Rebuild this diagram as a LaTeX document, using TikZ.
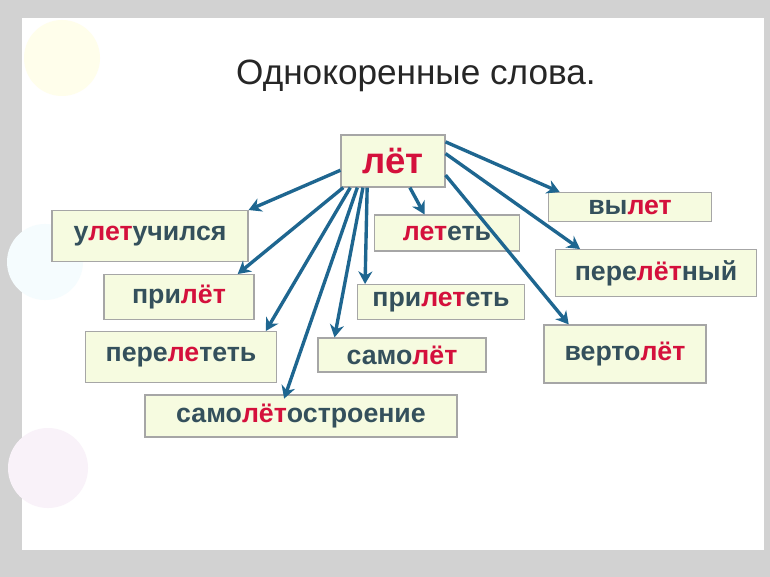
\documentclass[tikz,border=0pt]{standalone}
\usepackage{fontspec}
\setmainfont{Liberation Sans}
\usetikzlibrary{arrows.meta}
\definecolor{wordgray}{HTML}{34505C}
\definecolor{rootred}{HTML}{D4103C}
\definecolor{arrowblue}{HTML}{1E6690}
\definecolor{boxgreen}{HTML}{F6FBE0}
\newcommand{\rt}[1]{\textcolor{rootred}{#1}}
\tikzset{
  word/.style={draw=gray!70,fill=boxgreen,line width=0.8pt,minimum height=#1cm,
    font=\fontsize{19}{21}\selectfont\bfseries,text=wordgray,inner sep=0pt},
  word/.default=1.1,
  link/.style={arrowblue,line width=2.4pt,-{Stealth[length=9pt,width=10pt]}}
}
\begin{document}
\begin{tikzpicture}[x=0.025cm,y=-0.025cm]
  \useasboundingbox (0,0) rectangle (770,577);
  % background
  \fill[gray!35] (0,0) rectangle (770,577);
  \fill[white] (22,18) rectangle (764,550);
  \fill[yellow!8] (62,58) circle (38);
  \fill[cyan!4] (45,262) circle (38);
  \fill[violet!5] (48,468) circle (40);
  \node[font=\fontsize{25}{28}\selectfont,text=black!85] (title) at (416,76) {Однокоренные слова.};

  % root
  \node[word=1.3,minimum width=104*0.025cm,font=\fontsize{26}{28}\selectfont\bfseries] (let) at (393,161) {\rt{лёт}};

  % left side
  \node[word=1.27,minimum width=196*0.025cm] (uletuch) at (150,236) {у\rt{лет}учился};
  \node[word=1.12,minimum width=150*0.025cm] (prilyot) at (179,297) {при\rt{лёт}};
  \node[word=1.27,minimum width=191*0.025cm] (pereletet) at (181,357) {пере\rt{ле}теть};
  \node[word=1.05,minimum width=312*0.025cm] (samolstr) at (301,416) {само\rt{лёт}остроение};

  % middle
  \node[word=0.9,minimum width=145*0.025cm] (letet) at (447,233) {\rt{лет}еть};
  \node[word=0.87,minimum width=167*0.025cm] (priletet) at (441,302) {при\rt{лет}еть};
  \node[word=0.85,minimum width=168*0.025cm] (samolyot) at (402,355) {само\rt{лёт}};

  % right side
  \node[word=0.72,minimum width=163*0.025cm] (vylet) at (630,207) {вы\rt{лет}};
  \node[word=1.17,minimum width=201*0.025cm] (perelyotny) at (656,273) {пере\rt{лёт}ный};
  \node[word=1.45,minimum width=162*0.025cm] (vertolyot) at (625,354) {верто\rt{лёт}};

  % arrows
  \draw[link] (let.-170) -- (uletuch.north east);
  \draw[link] ([xshift=2pt]let.south west) -- ([xshift=-12pt]prilyot.north east);
  \draw[link] ([xshift=7pt]let.south west) -- ([xshift=-8pt]pereletet.north east);
  \draw[link] ([xshift=12pt]let.south west) -- ([xshift=-12pt,yshift=-3pt]samolstr.north);
  \draw[link] ([xshift=16pt]let.south west) -- ([xshift=-48pt]samolyot.north);
  \draw[link] ([xshift=19pt]let.south west) -- ([xshift=-54pt]priletet.north);
  \draw[link] ([xshift=12pt]let.south) -- ([xshift=-16pt]letet.north);
  \draw[link] (let.20) -- ([xshift=-50pt]vylet.north);
  \draw[link] (let.8) -- ([xshift=-54pt]perelyotny.north);
  \draw[link] (let.-15) -- ([xshift=-40pt]vertolyot.north);
\end{tikzpicture}
\end{document}
